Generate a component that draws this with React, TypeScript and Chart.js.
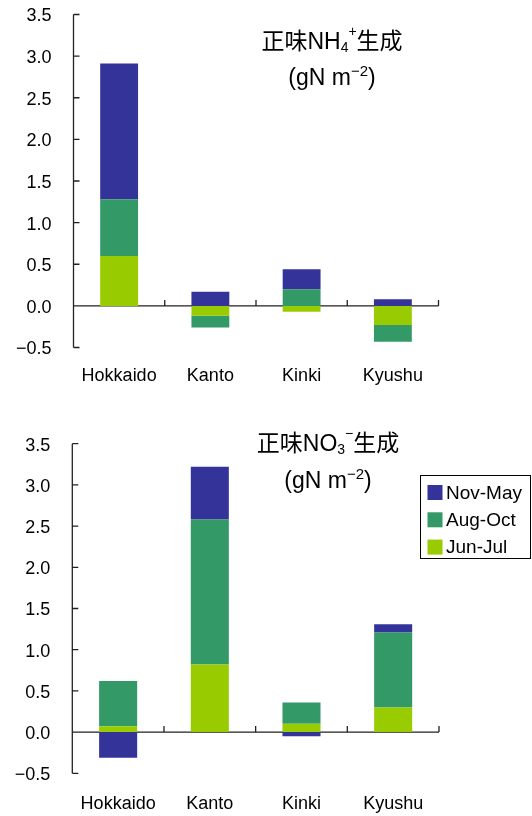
import React, { useEffect, useRef } from "react";
import { Chart, registerables } from "chart.js";

Chart.register(...registerables);

const categories = ["Hokkaido", "Kanto", "Kinki", "Kyushu"];
const seriesNames = ["Jun-Jul", "Aug-Oct", "Nov-May"];
const seriesColors = ["#99CC00", "#339966", "#333399"];

const nh4JunJul = [0.6, -0.12, -0.07, -0.23];
const nh4AugOct = [0.68, -0.14, 0.2, -0.2];
const nh4NovMay = [1.63, 0.17, 0.24, 0.08];

const no3JunJul = [0.07, 0.82, 0.1, 0.3];
const no3AugOct = [0.55, 1.76, 0.26, 0.91];
const no3NovMay = [-0.31, 0.64, -0.05, 0.1];

const yMin = -0.5;
const yMax = 3.5;
const yStep = 0.5;

const FONT = "'Liberation Sans', 'Noto Sans CJK JP', sans-serif";

type Seg = { text: string; size: number; dy: number };

function drawSegs(ctx: CanvasRenderingContext2D, segs: Seg[], cx: number, baseY: number) {
  let total = 0;
  const widths = segs.map((s) => {
    ctx.font = `${s.size}px ${FONT}`;
    const w = ctx.measureText(s.text).width;
    total += w;
    return w;
  });
  let x = cx - total / 2;
  ctx.textBaseline = "alphabetic";
  ctx.textAlign = "left";
  segs.forEach((s, i) => {
    ctx.font = `${s.size}px ${FONT}`;
    ctx.fillText(s.text, x, baseY + s.dy);
    x += widths[i];
  });
}

const decorPlugin = {
  id: "decor",
  beforeDatasetsDraw(chart: any) {
    const { ctx, chartArea, scales } = chart;
    const { left, right, top, bottom } = chartArea;
    const x = scales.x;
    const y = scales.y;
    ctx.save();
    ctx.strokeStyle = "#222";
    ctx.lineWidth = 1.3;
    ctx.beginPath();
    ctx.moveTo(left, top);
    ctx.lineTo(left, bottom);
    y.ticks.forEach((t: any) => {
      const py = y.getPixelForValue(t.value);
      ctx.moveTo(left, py);
      ctx.lineTo(left + 6, py);
    });
    const y0 = y.getPixelForValue(0);
    ctx.moveTo(left, y0);
    ctx.lineTo(right, y0);
    const n = categories.length;
    for (let i = 1; i <= n; i++) {
      const bx = i < n ? (x.getPixelForValue(i - 1) + x.getPixelForValue(i)) / 2 : right;
      ctx.moveTo(bx, y0);
      ctx.lineTo(bx, y0 - 6);
    }
    ctx.stroke();
    ctx.restore();
  },
  afterDraw(chart: any, _args: any, opts: any) {
    const { ctx } = chart;
    ctx.save();
    ctx.fillStyle = "#000";
    if (opts.title) drawSegs(ctx, opts.title, opts.cx, opts.ty);
    if (opts.sub) drawSegs(ctx, opts.sub, opts.cx, opts.sy);
    if (opts.legend) {
      const L = opts.legend;
      ctx.strokeStyle = "#000";
      ctx.lineWidth = 1;
      ctx.strokeRect(L.x + 0.5, L.y + 0.5, L.w, L.h);
      const ds = chart.data.datasets.slice().reverse();
      ds.forEach((d: any, i: number) => {
        const cy = L.y + L.first + i * L.gap;
        ctx.fillStyle = d.backgroundColor;
        ctx.fillRect(L.x + 7.5, cy - 7.5, 15, 15);
        ctx.fillStyle = "#000";
        ctx.font = `19px ${FONT}`;
        ctx.textBaseline = "middle";
        ctx.textAlign = "left";
        ctx.fillText(d.label, L.x + 26, cy + 1);
      });
    }
    ctx.restore();
  },
};

function fmt(v: number) {
  const s = v.toFixed(1);
  return s.startsWith("-") ? "\u2212" + s.slice(1) : s;
}

function makeConfig(
  data: number[][],
  layout: { top: number; left: number; right: number; bottom: number; xPad: number },
  decor: any
): any {
  const H = 408;
  return {
    type: "bar",
    data: {
      labels: categories,
      datasets: data.map((vals, i) => ({
        label: seriesNames[i],
        data: vals,
        backgroundColor: seriesColors[i],
        borderWidth: 0,
        barPercentage: 0.415,
        categoryPercentage: 1.0,
      })),
    },
    options: {
      animation: false,
      responsive: false,
      devicePixelRatio: 1,
      layout: { padding: { top: layout.top, left: 0, right: 532 - layout.right, bottom: 0 } },
      plugins: {
        legend: { display: false },
        tooltip: { enabled: false },
        title: { display: false },
        decor,
      },
      scales: {
        x: {
          stacked: true,
          grid: { display: false, drawTicks: false },
          border: { display: false },
          ticks: {
            color: "#000",
            font: { family: FONT, size: 18 },
            padding: layout.xPad,
            maxRotation: 0,
            autoSkip: false,
          },
          afterFit: (s: any) => {
            s.height = H - layout.bottom;
            s.paddingLeft = 0;
            s.paddingRight = 0;
          },
        },
        y: {
          stacked: true,
          min: yMin,
          max: yMax,
          grid: { display: false, drawTicks: false },
          border: { display: false },
          ticks: {
            stepSize: yStep,
            color: "#000",
            font: { family: FONT, size: 18 },
            padding: 22,
            labelOffset: 2,
            callback: (v: any) => fmt(Number(v)),
          },
          afterFit: (s: any) => {
            s.width = layout.left;
            s.paddingTop = 0;
            s.paddingBottom = 0;
          },
        },
      },
    },
    plugins: [decorPlugin],
  };
}

function ChartCanvas({ config }: { config: any }) {
  const ref = useRef<HTMLCanvasElement>(null);
  useEffect(() => {
    if (!ref.current) return;
    const c = new Chart(ref.current, config);
    return () => c.destroy();
  }, []);
  return <canvas ref={ref} width={532} height={408} style={{ display: "block", width: 532, height: 408 }} />;
}

const topConfig = makeConfig(
  [nh4JunJul, nh4AugOct, nh4NovMay],
  { top: 14.5, left: 73.5, right: 438.5, bottom: 347.5, xPad: 18 },
  {
    cx: 332,
    ty: 49,
    sy: 85,
    title: [
      { text: "正味NH", size: 23, dy: 0 },
      { text: "4", size: 14, dy: 3 },
      { text: "+", size: 14, dy: -13 },
      { text: "生成", size: 23, dy: 0 },
    ],
    sub: [
      { text: "(gN m", size: 23, dy: 0 },
      { text: "\u22122", size: 15, dy: -9 },
      { text: ")", size: 23, dy: 0 },
    ],
  }
);

const bottomConfig = makeConfig(
  [no3JunJul, no3AugOct, no3NovMay],
  { top: 35.7, left: 72.3, right: 439, bottom: 365.3, xPad: 20 },
  {
    cx: 328,
    ty: 43,
    sy: 80,
    title: [
      { text: "正味NO", size: 23, dy: 0 },
      { text: "3", size: 14, dy: 3 },
      { text: "\u2212", size: 14, dy: -13 },
      { text: "生成", size: 23, dy: 0 },
    ],
    sub: [
      { text: "(gN m", size: 23, dy: 0 },
      { text: "\u22122", size: 15, dy: -9 },
      { text: ")", size: 23, dy: 0 },
    ],
    legend: { x: 420, y: 67, w: 110, h: 83, first: 17.5, gap: 27.3 },
  }
);

export default function App() {
  useEffect(() => {
    document.body.style.margin = "0";
  }, []);
  return (
    <div style={{ width: 532, height: 816, background: "#fff" }}>
      <ChartCanvas config={topConfig} />
      <ChartCanvas config={bottomConfig} />
    </div>
  );
}
